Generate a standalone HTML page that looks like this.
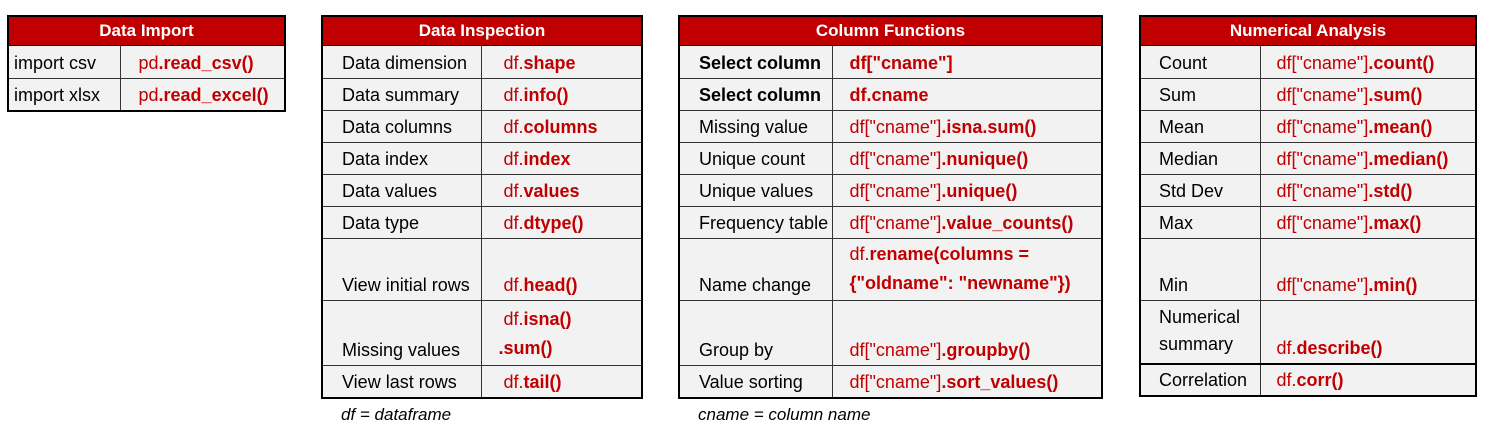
<!DOCTYPE html>
<html><head><meta charset="utf-8"><style>
body{margin:0;width:1488px;height:436px;background:#fff;position:relative;font-family:"Liberation Sans",sans-serif;overflow:hidden}
table{position:absolute;border-collapse:collapse;border:2px solid #000;table-layout:fixed}
td{border:1px solid #333;background:#f2f2f2;vertical-align:bottom;font-size:18px;line-height:20px;padding:0 0 5px 0;white-space:nowrap;overflow:visible;color:#000;box-sizing:border-box}
th{background:#c00000;color:#fff;font-size:17px;font-weight:bold;height:28px;border:1px solid #000;padding:0}
.c{color:#c00000}
.c b{font-weight:bold}
.f{position:absolute;top:405px;font-style:italic;font-size:17px}
.m{line-height:29px!important;padding-bottom:2px!important}
</style></head><body>

<table style="left:7px;top:15px;width:279px">
<colgroup><col style="width:112px"><col></colgroup>
<tr><th colspan="2">Data Import</th></tr>
<tr style="height:33px"><td style="padding-left:5px">import csv</td><td class="c" style="padding-left:18px">pd<b>.read_csv()</b></td></tr>
<tr style="height:32px"><td style="padding-left:5px">import xlsx</td><td class="c" style="padding-left:18px">pd<b>.read_excel()</b></td></tr>
</table>

<table style="left:321px;top:15px;width:322px">
<colgroup><col style="width:159px"><col></colgroup>
<tr><th colspan="2">Data Inspection</th></tr>
<tr style="height:33px"><td style="padding-left:19px">Data dimension</td><td class="c" style="padding-left:22px">df.<b>shape</b></td></tr>
<tr style="height:32px"><td style="padding-left:19px">Data summary</td><td class="c" style="padding-left:22px">df.<b>info()</b></td></tr>
<tr style="height:32px"><td style="padding-left:19px">Data columns</td><td class="c" style="padding-left:22px">df.<b>columns</b></td></tr>
<tr style="height:32px"><td style="padding-left:19px">Data index</td><td class="c" style="padding-left:22px">df.<b>index</b></td></tr>
<tr style="height:32px"><td style="padding-left:19px">Data values</td><td class="c" style="padding-left:22px">df.<b>values</b></td></tr>
<tr style="height:32px"><td style="padding-left:19px">Data type</td><td class="c" style="padding-left:22px">df.<b>dtype()</b></td></tr>
<tr style="height:62px"><td style="padding-left:19px">View initial rows</td><td class="c" style="padding-left:22px">df.<b>head()</b></td></tr>
<tr style="height:65px"><td style="padding-left:19px">Missing values</td><td class="c m" style="padding-left:17px"><span style="padding-left:5px">df.<b>isna()</b></span><br><b>.sum()</b></td></tr>
<tr style="height:32px"><td style="padding-left:19px">View last rows</td><td class="c" style="padding-left:22px">df.<b>tail()</b></td></tr>
</table>
<div class="f" style="left:341px">df = dataframe</div>

<table style="left:678px;top:15px;width:425px">
<colgroup><col style="width:153px"><col></colgroup>
<tr><th colspan="2">Column Functions</th></tr>
<tr style="height:33px"><td style="padding-left:19px"><b>Select column</b></td><td class="c" style="padding-left:17px"><b>df["cname"]</b></td></tr>
<tr style="height:32px"><td style="padding-left:19px"><b>Select column</b></td><td class="c" style="padding-left:17px"><b>df.cname</b></td></tr>
<tr style="height:32px"><td style="padding-left:19px">Missing value</td><td class="c" style="padding-left:17px">df["cname"]<b>.isna.sum()</b></td></tr>
<tr style="height:32px"><td style="padding-left:19px">Unique count</td><td class="c" style="padding-left:17px">df["cname"]<b>.nunique()</b></td></tr>
<tr style="height:32px"><td style="padding-left:19px">Unique values</td><td class="c" style="padding-left:17px">df["cname"]<b>.unique()</b></td></tr>
<tr style="height:32px"><td style="padding-left:19px">Frequency table</td><td class="c" style="padding-left:17px">df["cname"]<b>.value_counts()</b></td></tr>
<tr style="height:62px"><td style="padding-left:19px">Name change</td><td class="c m" style="padding-left:17px">df.<b>rename(columns =</b><br><b>{"oldname": "newname"})</b></td></tr>
<tr style="height:65px"><td style="padding-left:19px">Group by</td><td class="c" style="padding-left:17px">df["cname"]<b>.groupby()</b></td></tr>
<tr style="height:32px"><td style="padding-left:19px">Value sorting</td><td class="c" style="padding-left:17px">df["cname"]<b>.sort_values()</b></td></tr>
</table>
<div class="f" style="left:698px">cname = column name</div>

<table style="left:1139px;top:15px;width:338px">
<colgroup><col style="width:120px"><col></colgroup>
<tr><th colspan="2">Numerical Analysis</th></tr>
<tr style="height:33px"><td style="padding-left:18px">Count</td><td class="c" style="padding-left:16px">df["cname"]<b>.count()</b></td></tr>
<tr style="height:32px"><td style="padding-left:18px">Sum</td><td class="c" style="padding-left:16px">df["cname"]<b>.sum()</b></td></tr>
<tr style="height:32px"><td style="padding-left:18px">Mean</td><td class="c" style="padding-left:16px">df["cname"]<b>.mean()</b></td></tr>
<tr style="height:32px"><td style="padding-left:18px">Median</td><td class="c" style="padding-left:16px">df["cname"]<b>.median()</b></td></tr>
<tr style="height:32px"><td style="padding-left:18px">Std Dev</td><td class="c" style="padding-left:16px">df["cname"]<b>.std()</b></td></tr>
<tr style="height:32px"><td style="padding-left:18px">Max</td><td class="c" style="padding-left:16px">df["cname"]<b>.max()</b></td></tr>
<tr style="height:62px"><td style="padding-left:18px">Min</td><td class="c" style="padding-left:16px">df["cname"]<b>.min()</b></td></tr>
<tr style="height:63px"><td style="padding-left:18px;line-height:27px">Numerical<br>summary</td><td class="c" style="padding-left:16px">df.<b>describe()</b></td></tr>
<tr style="height:32px;border-top:2px solid #000"><td style="padding-left:18px">Correlation</td><td class="c" style="padding-left:16px">df.<b>corr()</b></td></tr>
</table>

</body></html>
